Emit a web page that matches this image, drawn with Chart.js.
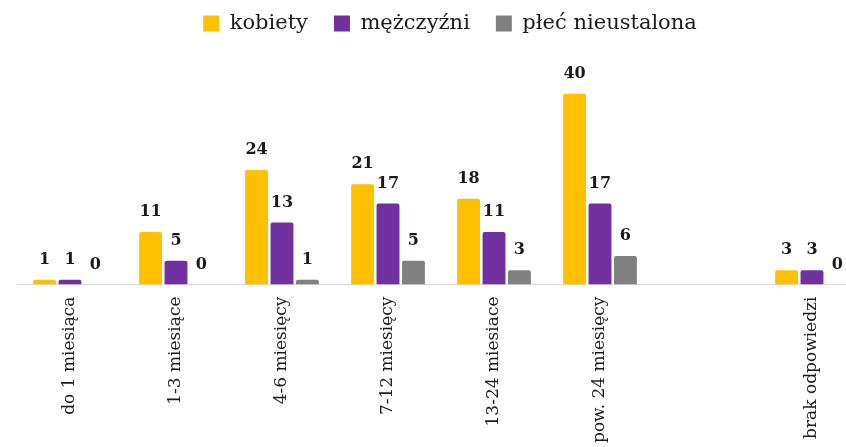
<!DOCTYPE html>
<html>
<head>
<meta charset="utf-8">
<script src="https://cdn.jsdelivr.net/npm/chart.js@4"></script>
<style>
  html, body { margin: 0; padding: 0; background: #fff; overflow: hidden; }
  #wrap { width: 900px; height: 447px; }
</style>
</head>
<body>
<div id="wrap"><canvas id="czasChart" width="900" height="447"></canvas></div>
<script>
// dane
var categories = ['do 1 miesiąca', '1-3 miesiące', '4-6 miesięcy', '7-12 miesięcy',
  '13-24 miesiace', 'pow. 24 miesięcy', '', 'brak odpowiedzi'];
var kobiety = [1, 11, 24, 21, 18, 40, null, 3];
var mezczyzni = [1, 5, 13, 17, 11, 17, null, 3];
var nieustalona = [0, 0, 1, 5, 3, 6, null, 0];

var serif = '"DejaVu Serif", serif';

// etykiety wartości nad słupkami
var valueLabels = {
  id: 'valueLabels',
  afterDatasetsDraw: function (chart) {
    var ctx = chart.ctx;
    ctx.save();
    ctx.font = 'bold 16px ' + serif;
    ctx.fillStyle = '#1a1a1a';
    ctx.textAlign = 'center';
    ctx.textBaseline = 'bottom';
    chart.data.datasets.forEach(function (ds, i) {
      chart.getDatasetMeta(i).data.forEach(function (bar, j) {
        if (ds.data[j] === null) return;
        ctx.fillText(ds.data[j], bar.x, bar.y - 12);
      });
    });
    ctx.restore();
  }
};

// legenda lekko w prawo, jak w oryginale
var legendShift = {
  id: 'legendShift',
  afterLayout: function (chart) {
    chart.legend.left += 9;
    chart.legend.right += 9;
  }
};

new Chart(document.getElementById('czasChart'), {
  type: 'bar',
  data: {
    labels: categories,
    datasets: [
      { label: 'kobiety', data: kobiety, backgroundColor: '#FFC000' },
      { label: 'mężczyźni', data: mezczyzni, backgroundColor: '#7030A0' },
      { label: 'płeć nieustalona', data: nieustalona, backgroundColor: '#808080' }
    ]
  },
  options: {
    responsive: false,
    animation: false,
    layout: { padding: { left: 17, right: 35, top: -13, bottom: 0 } },
    datasets: {
      bar: { categoryPercentage: 0.72, barPercentage: 0.9, borderRadius: 2 }
    },
    plugins: {
      legend: {
        position: 'top',
        labels: {
          font: { family: serif, size: 21 },
          color: '#1a1a1a',
          boxWidth: 16,
          boxHeight: 16,
          padding: 26
        }
      },
      tooltip: { enabled: false }
    },
    scales: {
      x: {
        grid: { display: false },
        border: { color: '#d9d9d9', width: 1 },
        ticks: {
          minRotation: 90,
          maxRotation: 90,
          padding: 4,
          color: '#1a1a1a',
          font: { family: serif, size: 17 }
        }
      },
      y: {
        display: false,
        min: 0,
        max: 50.4
      }
    }
  },
  plugins: [valueLabels, legendShift]
});
</script>
</body>
</html>
